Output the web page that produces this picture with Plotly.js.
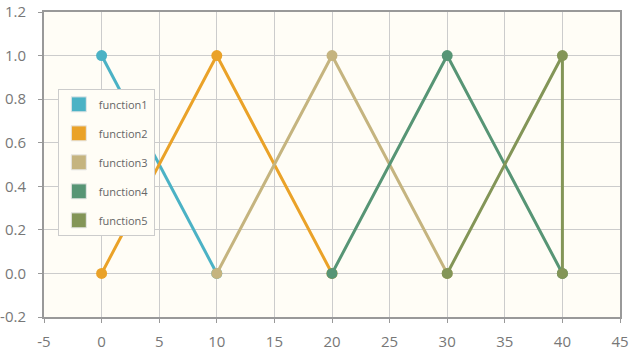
<!DOCTYPE html>
<html>
<head>
<meta charset="utf-8">
<script src="https://cdn.plot.ly/plotly-3.0.1.min.js"></script>
<style>html,body{margin:0;padding:0;background:#fff;}#chart{width:636px;height:354px;}</style>
</head>
<body>
<div id="chart"></div>
<script>
const seriesNames = ["function1", "function2", "function3", "function4", "function5"];
const seriesColors = ["#4bb2c5", "#eaa228", "#c5b47f", "#579575", "#839557"];
const f1x = [0, 10];
const f1y = [1, 0];
const f2x = [0, 10, 20];
const f2y = [0, 1, 0];
const f3x = [10, 20, 30];
const f3y = [0, 1, 0];
const f4x = [20, 30, 40];
const f4y = [0, 1, 0];
const f5x = [30, 40, 40];
const f5y = [0, 1, 0];
const xTicks = [-5, 0, 5, 10, 15, 20, 25, 30, 35, 40, 45];
const yTicks = [-0.2, 0, 0.2, 0.4, 0.6, 0.8, 1.0, 1.2];

const xs = [f1x, f2x, f3x, f4x, f5x];
const ys = [f1y, f2y, f3y, f4y, f5y];

const traces = [];
for (let i = 0; i < seriesNames.length; i++) {
  traces.push({
    x: xs[i], y: ys[i], type: 'scatter', mode: 'lines+markers',
    name: seriesNames[i], showlegend: false,
    line: {color: seriesColors[i], width: 3},
    marker: {color: seriesColors[i], size: 11}
  });
}
for (let i = 0; i < seriesNames.length; i++) {
  traces.push({
    x: [null], y: [null], type: 'scatter', mode: 'markers',
    name: seriesNames[i], legendgroup: 'g' + i, showlegend: true,
    marker: {color: seriesColors[i], symbol: 'square', size: 15, line: {color: '#e6e6e6', width: 1}}
  });
}

const layout = {
  width: 636, height: 354,
  margin: {l: 44, r: 16, t: 12, b: 37},
  paper_bgcolor: '#ffffff',
  plot_bgcolor: '#fffdf6',
  font: {family: 'Open Sans, DejaVu Sans, sans-serif', color: '#777777', size: 15},
  xaxis: {
    range: [-5, 45], tickvals: xTicks, ticktext: xTicks.map(String),
    showgrid: true, gridcolor: '#cccccc', gridwidth: 1, zeroline: false,
    showline: true, linecolor: '#999999', linewidth: 2, mirror: true,
    ticks: 'outside', ticklen: 4, tickcolor: '#999999',
    ticklabelstandoff: 6,
    tickfont: {size: 15, color: '#777777'}
  },
  yaxis: {
    range: [-0.2, 1.2], tickvals: yTicks, ticktext: yTicks.map(v => v.toFixed(1)),
    showgrid: true, gridcolor: '#cccccc', gridwidth: 1, zeroline: false,
    showline: true, linecolor: '#999999', linewidth: 2, mirror: true,
    ticks: 'outside', ticklen: 4, tickcolor: '#999999',
    ticklabelstandoff: 9,
    tickfont: {size: 15, color: '#777777'}
  },
  showlegend: true,
  legend: {
    x: 0.024, y: 0.748, xanchor: 'left', yanchor: 'top',
    bgcolor: '#fffdf6', bordercolor: '#cccccc', borderwidth: 1,
    font: {size: 11, color: '#666666'},
    tracegroupgap: 10, traceorder: 'grouped'
  }
};

Plotly.newPlot('chart', traces, layout, {displayModeBar: false, staticPlot: true});
</script>
</body>
</html>
